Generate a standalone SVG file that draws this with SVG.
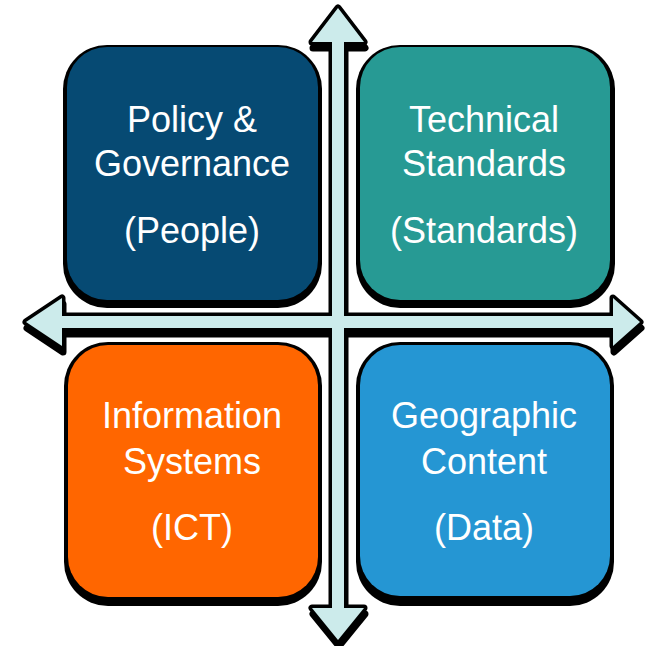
<svg xmlns="http://www.w3.org/2000/svg" width="646" height="646" viewBox="0 0 646 646">
<style>
.sh{fill:#000}
.t{fill:#fff;font-family:"Liberation Sans",Arial,sans-serif;font-size:36px;text-anchor:middle}
.arrow{fill:#CCEBEB;stroke:#000;stroke-width:7;stroke-linejoin:round;paint-order:stroke}
.ash{fill:#000;stroke:#000;stroke-width:7;stroke-linejoin:round}
</style>
<defs>
<path id="cross" d="M338,8 L364,42 L344,42 L344,316 L613,316 L613,298 L640,322 L613,346 L613,328 L344,328 L344,608 L364,608 L338,640 L312,608 L332,608 L332,328 L62,328 L62,346 L26,322 L62,298 L62,316 L332,316 L332,42 L312,42 Z"/>
</defs>
<rect width="646" height="646" fill="#fff"/>
<g id="node-policy">
<rect class="sh" x="63" y="45" width="259" height="263" rx="44"/>
<rect x="67" y="47" width="251" height="253" rx="40" fill="#064A73"/>
<text class="t" x="192" y="132">Policy &amp;</text>
<text class="t" x="192" y="176">Governance</text>
<text class="t" x="192" y="243">(People)</text>
</g>
<g id="node-technical">
<rect class="sh" x="356" y="45" width="259" height="263" rx="44"/>
<rect x="360" y="47" width="250" height="253" rx="40" fill="#279A94"/>
<text class="t" x="484" y="132">Technical</text>
<text class="t" x="484" y="176">Standards</text>
<text class="t" x="484" y="243">(Standards)</text>
</g>
<g id="node-info">
<rect class="sh" x="64" y="342" width="258" height="264" rx="44"/>
<rect x="68" y="345" width="250" height="252" rx="40" fill="#FF6600"/>
<text class="t" x="192" y="428">Information</text>
<text class="t" x="192" y="474">Systems</text>
<text class="t" x="192" y="540">(ICT)</text>
</g>
<g id="node-geo">
<rect class="sh" x="356" y="342" width="258" height="264" rx="44"/>
<rect x="360" y="345" width="250" height="251" rx="40" fill="#2596D3"/>
<text class="t" x="484" y="428">Geographic</text>
<text class="t" x="484" y="474">Content</text>
<text class="t" x="484" y="540">(Data)</text>
</g>
<g id="connectors">
<use href="#cross" class="ash" transform="translate(1,6)"/>
<use href="#cross" class="arrow"/>
</g>
</svg>
